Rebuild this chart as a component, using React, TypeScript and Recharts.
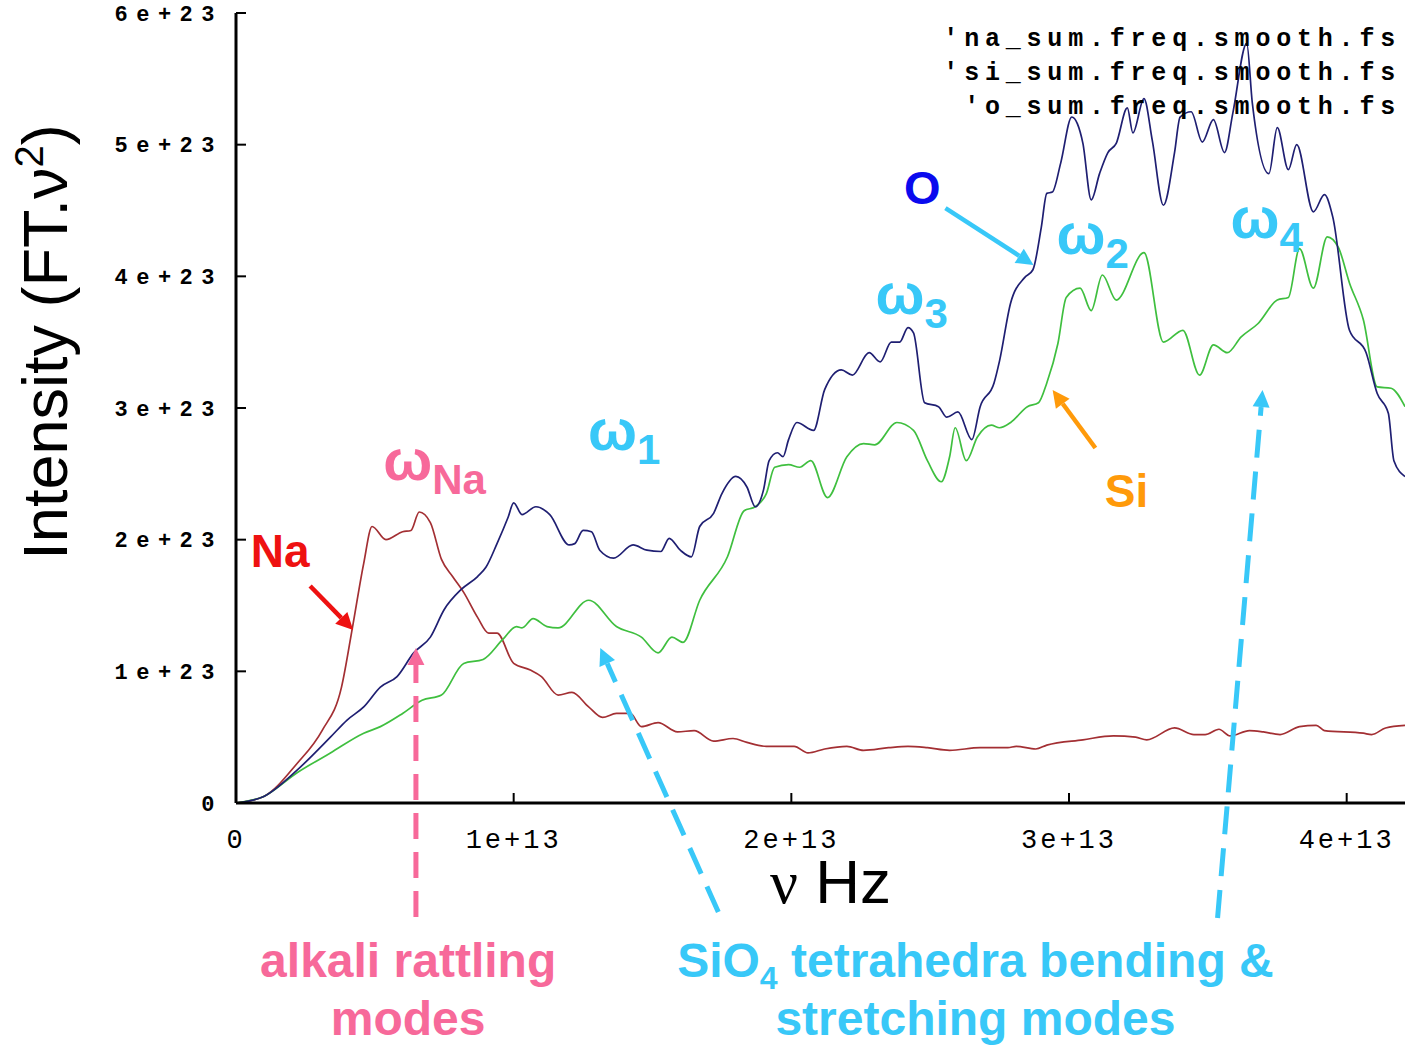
import React from "react";
import { LineChart, Line, XAxis, YAxis, Legend, ReferenceLine, ReferenceDot } from "recharts";

// frequency in units of 1e13 Hz, intensity in units of 1e23
const naFreq = [0, 0.1, 0.22, 0.31, 0.38, 0.42, 0.46, 0.49, 0.54, 0.6, 0.63, 0.66, 0.7, 0.74, 0.78, 0.82, 0.87, 0.91, 0.94, 1.0, 1.06, 1.1, 1.16, 1.21, 1.27, 1.32, 1.37, 1.42, 1.46, 1.52, 1.59, 1.65, 1.72, 1.79, 1.84, 1.91, 2.01, 2.06, 2.12, 2.2, 2.26, 2.35, 2.42, 2.49, 2.57, 2.68, 2.78, 2.81, 2.88, 2.92, 3.05, 3.16, 3.24, 3.28, 3.38, 3.45, 3.49, 3.54, 3.58, 3.65, 3.7, 3.76, 3.83, 3.89, 3.92, 4.06, 4.09, 4.14, 4.21];
const naIntensity = [0, 0.05, 0.3, 0.55, 0.88, 1.34, 1.82, 2.1, 2.0, 2.06, 2.07, 2.21, 2.13, 1.85, 1.72, 1.6, 1.41, 1.29, 1.29, 1.06, 1.01, 0.96, 0.82, 0.84, 0.73, 0.65, 0.68, 0.68, 0.58, 0.61, 0.54, 0.55, 0.47, 0.49, 0.46, 0.43, 0.43, 0.38, 0.41, 0.43, 0.4, 0.42, 0.43, 0.42, 0.4, 0.42, 0.42, 0.43, 0.41, 0.44, 0.48, 0.51, 0.5, 0.48, 0.57, 0.52, 0.52, 0.56, 0.51, 0.55, 0.54, 0.52, 0.58, 0.59, 0.55, 0.53, 0.52, 0.57, 0.59];

const siFreq = [0, 0.1, 0.22, 0.34, 0.46, 0.52, 0.6, 0.67, 0.74, 0.82, 0.89, 0.96, 1.01, 1.03, 1.07, 1.12, 1.16, 1.27, 1.37, 1.46, 1.52, 1.57, 1.61, 1.67, 1.77, 1.83, 1.87, 1.91, 1.94, 1.99, 2.03, 2.07, 2.13, 2.2, 2.26, 2.3, 2.38, 2.44, 2.49, 2.54, 2.57, 2.59, 2.63, 2.67, 2.72, 2.75, 2.79, 2.85, 2.89, 2.92, 2.96, 2.99, 3.04, 3.08, 3.12, 3.17, 3.27, 3.34, 3.41, 3.47, 3.52, 3.57, 3.62, 3.68, 3.75, 3.79, 3.83, 3.88, 3.93, 3.97, 4.01, 4.06, 4.11, 4.16, 4.21];
const siIntensity = [0, 0.05, 0.23, 0.38, 0.53, 0.58, 0.68, 0.78, 0.82, 1.06, 1.09, 1.24, 1.34, 1.33, 1.4, 1.34, 1.33, 1.54, 1.34, 1.26, 1.14, 1.26, 1.22, 1.54, 1.87, 2.22, 2.25, 2.35, 2.55, 2.57, 2.55, 2.6, 2.32, 2.63, 2.73, 2.72, 2.89, 2.83, 2.6, 2.44, 2.63, 2.85, 2.6, 2.78, 2.87, 2.85, 2.89, 3.01, 3.04, 3.19, 3.49, 3.84, 3.91, 3.74, 4.01, 3.82, 4.18, 3.5, 3.59, 3.25, 3.48, 3.42, 3.54, 3.64, 3.82, 3.84, 4.21, 3.91, 4.3, 4.22, 3.95, 3.67, 3.16, 3.15, 3.01];

const oFreq = [0, 0.1, 0.22, 0.34, 0.4, 0.46, 0.52, 0.58, 0.64, 0.7, 0.75, 0.81, 0.87, 0.9, 0.94, 0.98, 1.0, 1.03, 1.08, 1.13, 1.2, 1.22, 1.25, 1.28, 1.31, 1.36, 1.43, 1.48, 1.53, 1.56, 1.6, 1.64, 1.67, 1.72, 1.75, 1.8, 1.84, 1.87, 1.9, 1.92, 1.95, 1.97, 1.99, 2.02, 2.08, 2.12, 2.18, 2.22, 2.28, 2.32, 2.36, 2.39, 2.42, 2.44, 2.48, 2.53, 2.56, 2.6, 2.65, 2.68, 2.73, 2.75, 2.79, 2.84, 2.87, 2.9, 2.92, 2.94, 2.97, 3.01, 3.03, 3.05, 3.08, 3.11, 3.14, 3.17, 3.21, 3.23, 3.27, 3.3, 3.34, 3.38, 3.4, 3.44, 3.48, 3.52, 3.56, 3.59, 3.64, 3.66, 3.72, 3.75, 3.79, 3.82, 3.88, 3.92, 3.95, 4.01, 4.07, 4.11, 4.15, 4.17, 4.21];
const oIntensity = [0, 0.05, 0.25, 0.5, 0.63, 0.73, 0.88, 0.96, 1.14, 1.26, 1.47, 1.62, 1.72, 1.79, 1.97, 2.17, 2.28, 2.19, 2.25, 2.19, 1.96, 1.97, 2.07, 2.06, 1.92, 1.86, 1.96, 1.92, 1.91, 2.01, 1.92, 1.87, 2.1, 2.2, 2.35, 2.48, 2.4, 2.25, 2.38, 2.6, 2.66, 2.63, 2.76, 2.89, 2.83, 3.14, 3.29, 3.25, 3.42, 3.35, 3.5, 3.5, 3.61, 3.57, 3.04, 3.01, 2.93, 2.97, 2.76, 3.01, 3.19, 3.36, 3.8, 3.99, 4.05, 4.37, 4.63, 4.64, 4.86, 5.21, 5.16, 5.01, 4.58, 4.78, 4.94, 5.01, 5.28, 5.09, 5.35, 5.03, 4.54, 4.94, 5.21, 5.25, 5.02, 5.19, 4.94, 5.24, 5.77, 5.32, 4.78, 5.13, 4.81, 5.0, 4.49, 4.62, 4.45, 3.59, 3.42, 3.11, 2.96, 2.6, 2.48];

const seriesFiles = ["'na_sum.freq.smooth.fs", "'si_sum.freq.smooth.fs", "'o_sum.freq.smooth.fs"];
const freqTicks = [0, 1, 2, 3, 4];
const intensityTicks = [0, 1, 2, 3, 4, 5, 6];

const toPoints = (fs: number[], vs: number[]) => fs.map((f, i) => ({ freq: f, value: vs[i] }));
const naData = toPoints(naFreq, naIntensity);
const siData = toPoints(siFreq, siIntensity);
const oData = toPoints(oFreq, oIntensity);

const SANS = '"Liberation Sans", Arial, sans-serif';
const SERIF = '"Liberation Serif", "Times New Roman", serif';
const MONO = '"Liberation Mono", "Courier New", monospace';
const PINK = "#f7699a";
const CYAN = "#38c8f8";
const RED = "#ee1111";
const BLUE = "#0a0aee";
const ORANGE = "#ff9a0a";

// line with a filled head at (x2, y2)
const Arrow = (p: any) => {
  const { x1, y1, x2, y2, color, width = 4, dash, head = 17 } = p;
  const ang = Math.atan2(y2 - y1, x2 - x1);
  const bx = x2 - head * Math.cos(ang);
  const by = y2 - head * Math.sin(ang);
  const hw = head * 0.5;
  const nx = -Math.sin(ang) * hw;
  const ny = Math.cos(ang) * hw;
  return (
    <g>
      <line x1={x1} y1={y1} x2={bx} y2={by} stroke={color} strokeWidth={width} strokeDasharray={dash} />
      <polygon points={`${x2},${y2} ${bx + nx},${by + ny} ${bx - nx},${by - ny}`} fill={color} />
    </g>
  );
};

const Omega = (sub: string, color: string) => (p: any) => (
  <text x={p.cx} y={p.cy} fill={color} fontFamily={SANS} fontWeight="bold">
    <tspan fontSize={58}>ω</tspan>
    <tspan fontSize={42} dy={14}>{sub}</tspan>
  </text>
);

const Word = (label: React.ReactNode, color: string, size: number, anchor = "middle") => (p: any) => (
  <text x={p.cx} y={p.cy} fill={color} fontFamily={SANS} fontWeight="bold" fontSize={size} textAnchor={anchor}>
    {label}
  </text>
);

const YTitle = (props: any) => {
  const vb = props.viewBox || { x: 0, y: 13, width: 236, height: 790 };
  const x = vb.x + 67;
  const y = vb.y + vb.height / 2 - 66;
  return (
    <text x={x} y={y} transform={`rotate(-90, ${x}, ${y})`} textAnchor="middle" fontFamily={SANS} fontSize={63} fill="#000">
      Intensity (FT.ν<tspan fontSize={40} dy={-24}>2</tspan>
      <tspan dy={24}>)</tspan>
    </text>
  );
};

const XTitle = (props: any) => {
  const vb = props.viewBox || { x: 236, y: 803, width: 1169, height: 120 };
  const x = vb.x + vb.width / 2 + 10;
  const y = vb.y + 100;
  return (
    <text x={x} y={y} textAnchor="middle" fontFamily={SANS} fontSize={62} fill="#000">
      <tspan fontFamily={SERIF}>ν</tspan> Hz
    </text>
  );
};

const FileLegend = (props: any) => (
  <div style={{ fontFamily: MONO, fontWeight: "bold", fontSize: 25, letterSpacing: 5.8, lineHeight: "34px", textAlign: "right", color: "#000", whiteSpace: "pre" }}>
    {(props.payload || []).map((e: any) => (
      <div key={e.value}>{e.value}</div>
    ))}
  </div>
);

const fmtFreq = (v: number) => (v === 0 ? "0" : `${v}e+13`);
const fmtIntensity = (v: number) => (v === 0 ? "0" : `${v}e+23`);

export default function App() {
  return (
    <div style={{ position: "absolute", left: 0, top: 0, background: "#fff" }}>
      <LineChart width={1405} height={1048} margin={{ top: 13, right: 0, bottom: 125, left: 0 }}>
        <XAxis
          dataKey="freq"
          type="number"
          domain={[0, 4.21]}
          ticks={freqTicks}
          interval={0}
          allowDataOverflow
          height={120}
          tickFormatter={fmtFreq}
          tickSize={-10}
          tickMargin={36}
          axisLine={{ stroke: "#000", strokeWidth: 3 }}
          tickLine={{ stroke: "#000", strokeWidth: 2 }}
          tick={{ fontFamily: MONO, fontSize: 27, fill: "#000", letterSpacing: 3 }}
          label={(p: any) => <XTitle {...p} />}
        />
        <XAxis
          xAxisId="top"
          orientation="top"
          dataKey="freq"
          type="number"
          domain={[0, 4.21]}
          ticks={freqTicks}
          interval={0}
          allowDataOverflow
          height={0}
          tick={false}
          tickSize={-10}
          axisLine={{ stroke: "#000", strokeWidth: 3 }}
          tickLine={{ stroke: "#000", strokeWidth: 2 }}
        />
        <YAxis
          type="number"
          domain={[0, 6]}
          ticks={intensityTicks}
          interval={0}
          allowDataOverflow
          width={236}
          tickFormatter={fmtIntensity}
          tickSize={-10}
          tickMargin={23}
          axisLine={{ stroke: "#000", strokeWidth: 3 }}
          tickLine={{ stroke: "#000", strokeWidth: 2 }}
          tick={{ fontFamily: MONO, fontSize: 22, fontWeight: "bold", fill: "#000", letterSpacing: 8.5 }}
          label={(p: any) => <YTitle {...p} />}
        />
        <Legend
          layout="vertical"
          align="center"
          verticalAlign="middle"
          itemSorter={(item: any) => seriesFiles.indexOf(item.value)}
          content={(p: any) => <FileLegend {...p} />}
          wrapperStyle={{ top: 23, right: 4, left: "auto", bottom: "auto", width: "auto" }}
        />

        <Line data={naData} dataKey="value" name={seriesFiles[0]} type="monotone" stroke="#a32f33" strokeWidth={1.7} dot={false} isAnimationActive={false} />
        <Line data={siData} dataKey="value" name={seriesFiles[1]} type="monotone" stroke="#3fbf3f" strokeWidth={1.7} dot={false} isAnimationActive={false} />
        <Line data={oData} dataKey="value" name={seriesFiles[2]} type="monotone" stroke="#1f1f72" strokeWidth={1.7} dot={false} isAnimationActive={false} />

        {/* arrows */}
        <ReferenceLine ifOverflow="visible" segment={[{ x: 0.267, y: 1.648 }, { x: 0.422, y: 1.314 }]} shape={(p: any) => <Arrow {...p} color={RED} width={4.5} />} />
        <ReferenceLine ifOverflow="visible" segment={[{ x: 0.648, y: -0.866 }, { x: 0.648, y: 1.177 }]} shape={(p: any) => <Arrow {...p} color={PINK} width={5} dash="26 13" />} />
        <ReferenceLine ifOverflow="visible" segment={[{ x: 1.737, y: -0.828 }, { x: 1.312, y: 1.177 }]} shape={(p: any) => <Arrow {...p} color={CYAN} width={5} dash="28 14" />} />
        <ReferenceLine ifOverflow="visible" segment={[{ x: 3.535, y: -0.873 }, { x: 3.697, y: 3.136 }]} shape={(p: any) => <Arrow {...p} color={CYAN} width={5} dash="28 14" />} />
        <ReferenceLine ifOverflow="visible" segment={[{ x: 2.555, y: 4.518 }, { x: 2.872, y: 4.086 }]} shape={(p: any) => <Arrow {...p} color={CYAN} width={4.5} />} />
        <ReferenceLine ifOverflow="visible" segment={[{ x: 3.095, y: 2.696 }, { x: 2.941, y: 3.136 }]} shape={(p: any) => <Arrow {...p} color={ORANGE} width={4.5} />} />

        {/* species and mode labels */}
        <ReferenceDot ifOverflow="visible" x={0.159} y={1.792} r={0} shape={Word("Na", RED, 46)} />
        <ReferenceDot ifOverflow="visible" x={2.472} y={4.548} r={0} shape={Word("O", BLUE, 47)} />
        <ReferenceDot ifOverflow="visible" x={3.207} y={2.248} r={0} shape={Word("Si", ORANGE, 46)} />
        <ReferenceDot ifOverflow="visible" x={0.53} y={2.453} r={0} shape={Omega("Na", PINK)} />
        <ReferenceDot ifOverflow="visible" x={1.268} y={2.68} r={0} shape={Omega("1", CYAN)} />
        <ReferenceDot ifOverflow="visible" x={2.303} y={3.713} r={0} shape={Omega("3", CYAN)} />
        <ReferenceDot ifOverflow="visible" x={2.955} y={4.169} r={0} shape={Omega("2", CYAN)} />
        <ReferenceDot ifOverflow="visible" x={3.582} y={4.29} r={0} shape={Omega("4", CYAN)} />

        {/* mode families under the axis */}
        <ReferenceDot ifOverflow="visible" x={0.62} y={-1.321} r={0} shape={Word("alkali rattling", PINK, 48)} />
        <ReferenceDot ifOverflow="visible" x={0.62} y={-1.762} r={0} shape={Word("modes", PINK, 48)} />
        <ReferenceDot
          ifOverflow="visible"
          x={2.663}
          y={-1.321}
          r={0}
          shape={Word(
            <>
              SiO<tspan fontSize={32} dy={12}>4</tspan>
              <tspan dy={-12}> tetrahedra bending &amp;</tspan>
            </>,
            CYAN,
            48
          )}
        />
        <ReferenceDot ifOverflow="visible" x={2.663} y={-1.762} r={0} shape={Word("stretching modes", CYAN, 48)} />
      </LineChart>
    </div>
  );
}
